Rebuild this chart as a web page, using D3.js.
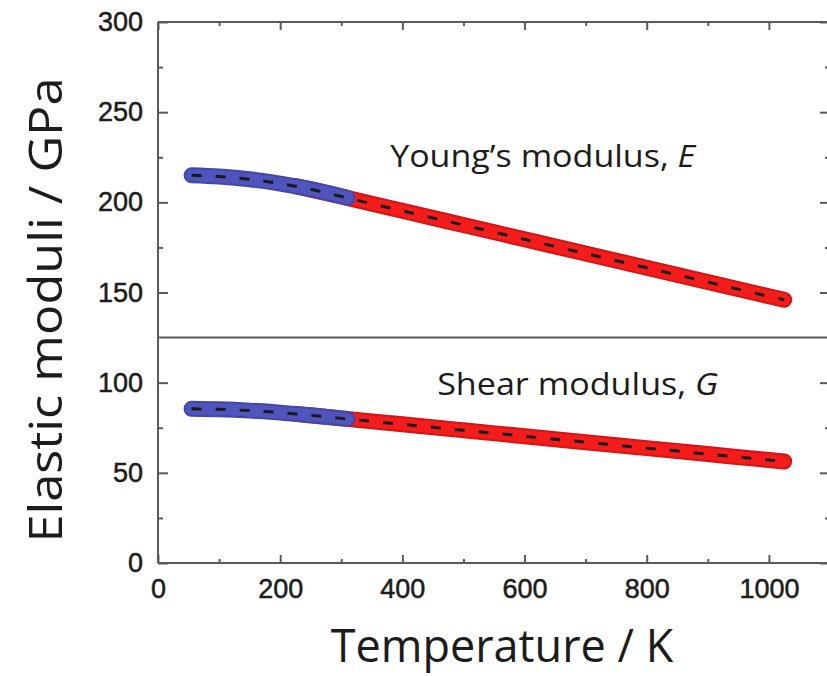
<!DOCTYPE html>
<html>
<head>
<meta charset="utf-8">
<script src="https://cdn.jsdelivr.net/npm/d3@7"></script>
<style>
  html, body { margin: 0; padding: 0; background: #fff; }
  svg { display: block; }
</style>
</head>
<body>
<svg id="chart" width="827" height="676"></svg>
<script>
// Low-temperature measurement (blue band)
const lowT   = [55, 100, 150, 200, 250, 310];
const lowE   = [215.0, 214.3, 212.8, 210.4, 207.3, 202.5];
const lowG   = [85.5, 85.2, 84.5, 83.4, 81.9, 79.9];

// High-temperature measurement (red band)
const highT  = [225, 300, 400, 500, 600, 700, 800, 900, 1000, 1025];
const highE  = [209.0, 203.2, 195.3, 187.4, 179.5, 171.6, 163.7, 155.8, 147.9, 146.0];
const highG  = [82.7, 80.2, 76.9, 73.6, 70.3, 67.0, 63.7, 60.4, 57.1, 56.3];

// Fitted curves (dashed)
const fitT   = [55, 100, 150, 200, 250, 300, 400, 500, 600, 700, 800, 900, 1000, 1025];
const fitE   = [215.0, 214.3, 212.8, 210.4, 207.3, 203.2, 195.3, 187.4, 179.5, 171.6, 163.7, 155.8, 147.9, 146.0];
const fitG   = [85.5, 85.2, 84.5, 83.4, 81.9, 80.2, 76.9, 73.6, 70.3, 67.0, 63.7, 60.4, 57.1, 56.3];

const xMajor = [0, 200, 400, 600, 800, 1000];
const xMinor = [100, 300, 500, 700, 900];
const yLabels = [0, 50, 100, 150, 200, 250, 300];
const yMinor = [25, 75, 175, 225, 275];
const panelSplit = 125;

const svg = d3.select("#chart");
const x = d3.scaleLinear().domain([0, 1100]).range([158, 830]);
const y = d3.scaleLinear().domain([0, 300]).range([563, 22]);

const axisColor = "#5a5a5a";
const inkColor = "#1c1c1c";
const tickFont = "'Liberation Sans', Arial, sans-serif";
const titleFont = "'Open Sans', 'Noto Sans', sans-serif";

// Bands and fit lines
const line = d3.line().x(d => x(d[0])).y(d => y(d[1])).curve(d3.curveMonotoneX);
const zip = (a, b) => a.map((v, i) => [v, b[i]]);

function band(pts, outer, inner) {
  svg.append("path").attr("d", line(pts)).attr("fill", "none")
    .attr("stroke", outer).attr("stroke-width", 16)
    .attr("stroke-linecap", "round").attr("stroke-linejoin", "round");
  svg.append("path").attr("d", line(pts)).attr("fill", "none")
    .attr("stroke", inner).attr("stroke-width", 12)
    .attr("stroke-linecap", "round").attr("stroke-linejoin", "round");
}
const redOuter = "#d41515", redInner = "#f51c1c";
const blueOuter = "#4347a8", blueInner = "#4f55bd";

band(zip(highT, highE), redOuter, redInner);
band(zip(highT, highG), redOuter, redInner);
band(zip(lowT, lowE), blueOuter, blueInner);
band(zip(lowT, lowG), blueOuter, blueInner);

[fitE, fitG].forEach(vals => {
  svg.append("path").attr("d", line(zip(fitT, vals))).attr("fill", "none")
    .attr("stroke", "#1a1a1a").attr("stroke-width", 3)
    .attr("stroke-dasharray", "10,14");
});

// Frame
const frame = svg.append("g").attr("stroke", axisColor).attr("stroke-width", 2).attr("fill", "none");
frame.append("line").attr("x1", x(0)).attr("x2", x(1100)).attr("y1", y(0)).attr("y2", y(0));
frame.append("line").attr("x1", x(0)).attr("x2", x(1100)).attr("y1", y(300)).attr("y2", y(300));
frame.append("line").attr("x1", x(0)).attr("x2", x(0)).attr("y1", y(0)).attr("y2", y(300));
frame.append("line").attr("x1", x(1100)).attr("x2", x(1100)).attr("y1", y(0)).attr("y2", y(300));
frame.append("line").attr("x1", x(0)).attr("x2", x(1100)).attr("y1", y(panelSplit)).attr("y2", y(panelSplit));

// Inward ticks using D3 axes
function styleAxis(g) {
  g.select(".domain").remove();
  g.selectAll(".tick line").attr("stroke", axisColor).attr("stroke-width", 2);
  g.selectAll("text").attr("font-family", tickFont).attr("font-size", 27)
    .attr("fill", inkColor).attr("stroke", inkColor).attr("stroke-width", 0.5);
}
// bottom
svg.append("g").attr("transform", `translate(0,${y(0)})`)
  .call(d3.axisBottom(x).tickValues(xMajor).tickSize(-8).tickPadding(16).tickFormat(d3.format("d")))
  .call(styleAxis)
  .call(g => g.selectAll("text").attr("dy", "0.71em"));
svg.append("g").attr("transform", `translate(0,${y(0)})`)
  .call(d3.axisBottom(x).tickValues(xMinor).tickSize(-4).tickFormat(""))
  .call(styleAxis);
// top
svg.append("g").attr("transform", `translate(0,${y(300)})`)
  .call(d3.axisTop(x).tickValues(xMajor).tickSize(-8).tickFormat(""))
  .call(styleAxis);
svg.append("g").attr("transform", `translate(0,${y(300)})`)
  .call(d3.axisTop(x).tickValues(xMinor).tickSize(-4).tickFormat(""))
  .call(styleAxis);
// left
svg.append("g").attr("transform", `translate(${x(0)},0)`)
  .call(d3.axisLeft(y).tickValues(yLabels).tickSize(-10).tickPadding(15).tickFormat(d3.format("d")))
  .call(styleAxis);
svg.append("g").attr("transform", `translate(${x(0)},0)`)
  .call(d3.axisLeft(y).tickValues(yMinor).tickSize(-5).tickFormat(""))
  .call(styleAxis);
// right
svg.append("g").attr("transform", `translate(${x(1100)},0)`)
  .call(d3.axisRight(y).tickValues(yLabels).tickSize(-10).tickFormat(""))
  .call(styleAxis);
svg.append("g").attr("transform", `translate(${x(1100)},0)`)
  .call(d3.axisRight(y).tickValues(yMinor).tickSize(-5).tickFormat(""))
  .call(styleAxis);

// Panel labels
function label(tx, ty, width, main, sym) {
  const t = svg.append("text").attr("x", x(tx)).attr("y", y(ty))
    .attr("font-family", titleFont).attr("font-size", 31).attr("fill", inkColor)
    .attr("textLength", width).attr("lengthAdjust", "spacingAndGlyphs");
  t.append("tspan").text(main);
  t.append("tspan").attr("font-style", "italic").text(sym);
}
label(380, 219.6, 305, "Young\u2019s modulus, ", "E");
label(457, 93.2, 281, "Shear modulus, ", "G");

// Axis titles
svg.append("text").attr("x", 502).attr("y", 662).attr("text-anchor", "middle")
  .attr("font-family", titleFont).attr("font-size", 45).attr("fill", inkColor)
  .text("Temperature / K");
svg.append("text").attr("transform", "translate(62,310) rotate(-90)").attr("text-anchor", "middle")
  .attr("font-family", titleFont).attr("font-size", 46).attr("fill", inkColor)
  .attr("textLength", 465).attr("lengthAdjust", "spacingAndGlyphs")
  .text("Elastic moduli / GPa");
</script>
</body>
</html>
